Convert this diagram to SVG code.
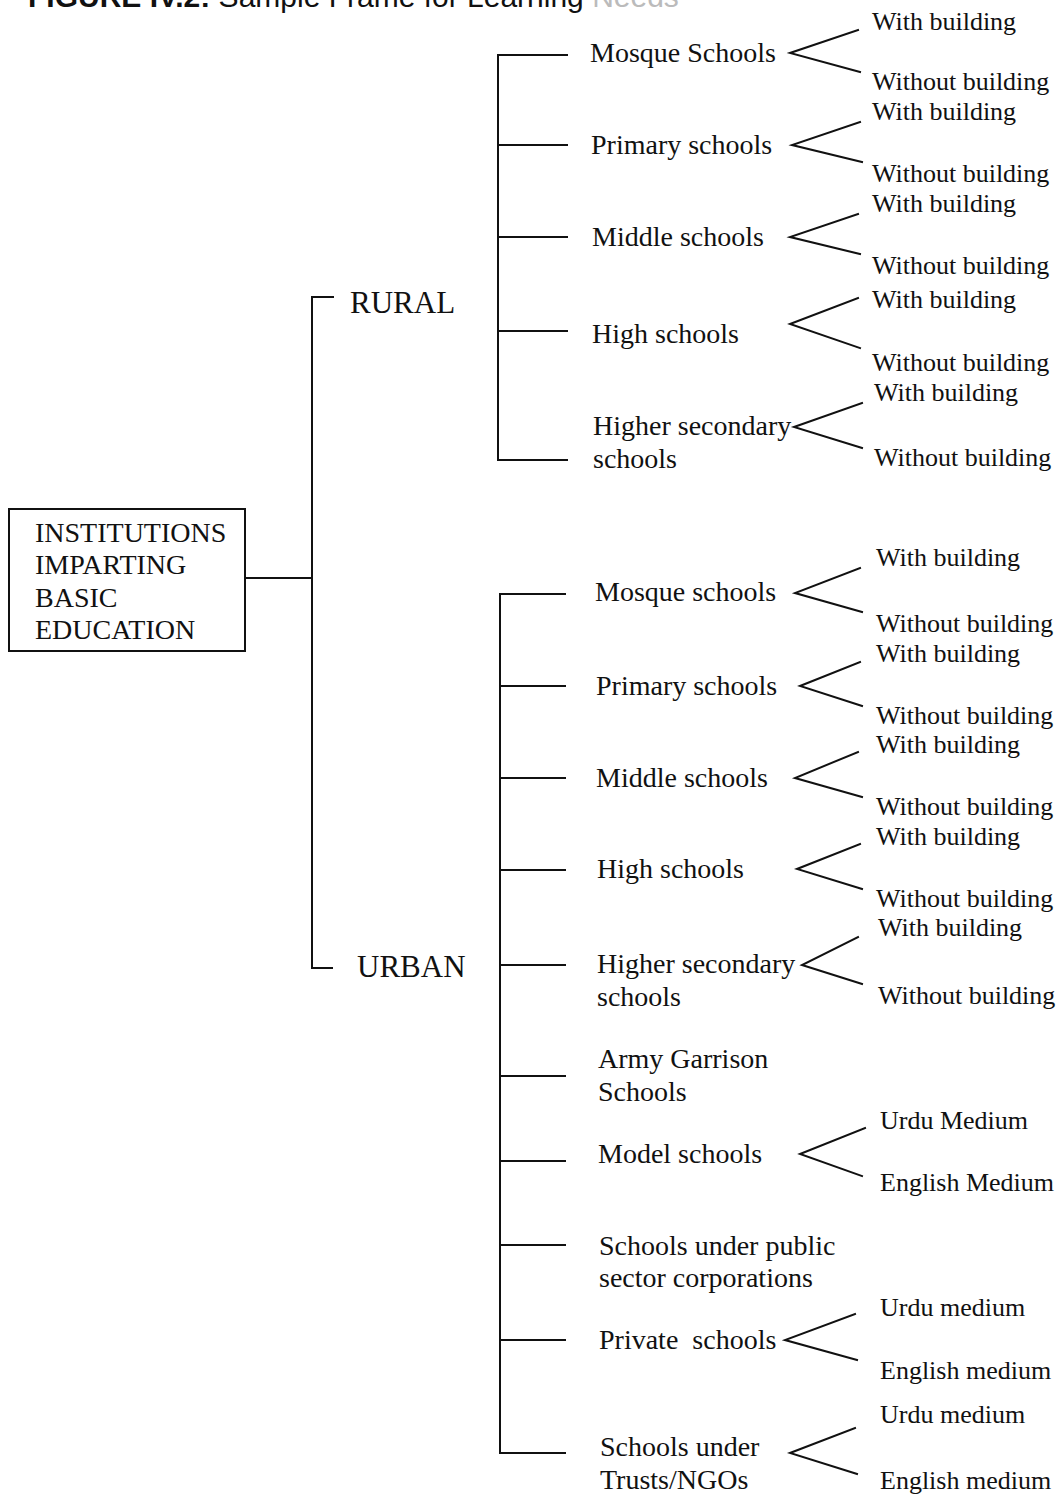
<svg xmlns="http://www.w3.org/2000/svg" width="1062" height="1495" viewBox="0 0 1062 1495">
  <style>
    .ln { stroke: #111; stroke-width: 2; fill: none; stroke-linecap: square; }
    .box { stroke: #111; stroke-width: 2; fill: #fff; }
    .t { font-family: "Liberation Serif", "Times New Roman", serif; fill: #111; }
    .lbl { font-size: 28px; }
    .leaf { font-size: 26px; }
    .grp { font-size: 31px; }
    .root { font-size: 28px; }
    .title { font-family: "Liberation Sans", Arial, sans-serif; font-size: 30px; fill: #111; }
  </style>
  <rect width="1062" height="1495" fill="#fff"/>

  <!-- heading, clipped by the top edge -->
  <text class="title" x="28" y="7"><tspan font-weight="bold">FIGURE IV.2:</tspan> Sample Frame for Learning <tspan fill="#bbb">Needs</tspan></text>

  <!-- connectors -->
  <g id="connectors" class="ln">
    <!-- root to trunk -->
    <path d="M246 578 H312"/>
    <path d="M333 297 H312 V968 H332"/>
    <!-- rural spine -->
    <path d="M567 55 H498 V460 H567"/>
    <path d="M498 145 H567"/>
    <path d="M498 237 H567"/>
    <path d="M498 331 H567"/>
    <!-- urban spine -->
    <path d="M565 594 H500 V1453 H565"/>
    <path d="M500 686 H565"/>
    <path d="M500 778 H565"/>
    <path d="M500 870 H565"/>
    <path d="M500 965 H565"/>
    <path d="M500 1076 H565"/>
    <path d="M500 1161 H565"/>
    <path d="M500 1245 H565"/>
    <path d="M500 1340 H565"/>
    <!-- rural forks -->
    <path d="M858 30 L790 53 L860 72"/>
    <path d="M860 122 L792 145 L862 162"/>
    <path d="M858 214 L790 237 L860 254"/>
    <path d="M858 298 L790 324 L860 348"/>
    <path d="M862 403 L794 427 L862 448"/>
    <!-- urban forks -->
    <path d="M860 568 L795 593 L862 612"/>
    <path d="M860 662 L800 686 L862 706"/>
    <path d="M858 752 L795 778 L862 797"/>
    <path d="M860 844 L797 869 L862 889"/>
    <path d="M858 937 L802 965 L862 984"/>
    <path d="M865 1128 L800 1154 L862 1176"/>
    <path d="M855 1314 L785 1340 L857 1360"/>
    <path d="M855 1428 L790 1453 L857 1474"/>
  </g>

  <g id="root">
    <rect class="box" x="9" y="509" width="236" height="142"/>
    <text class="t root" x="35" y="542">INSTITUTIONS</text>
    <text class="t root" x="35" y="574">IMPARTING</text>
    <text class="t root" x="35" y="607">BASIC</text>
    <text class="t root" x="35" y="639">EDUCATION</text>
  </g>

  <g id="rural"><text class="t grp" x="350" y="313">RURAL</text></g>
  <g id="urban"><text class="t grp" x="357" y="977">URBAN</text></g>

  <!-- rural branches -->
  <g id="r-mosque">
    <text class="t lbl" x="590" y="62">Mosque Schools</text>
    <text class="t leaf" x="872" y="30">With building</text>
    <text class="t leaf" x="872" y="90">Without building</text>
  </g>
  <g id="r-primary">
    <text class="t lbl" x="591" y="154">Primary schools</text>
    <text class="t leaf" x="872" y="120">With building</text>
    <text class="t leaf" x="872" y="182">Without building</text>
  </g>
  <g id="r-middle">
    <text class="t lbl" x="592" y="246">Middle schools</text>
    <text class="t leaf" x="872" y="212">With building</text>
    <text class="t leaf" x="872" y="274">Without building</text>
  </g>
  <g id="r-high">
    <text class="t lbl" x="592" y="343">High schools</text>
    <text class="t leaf" x="872" y="308">With building</text>
    <text class="t leaf" x="872" y="371">Without building</text>
  </g>
  <g id="r-highersec">
    <text class="t lbl" x="593" y="435">Higher secondary</text>
    <text class="t lbl" x="593" y="468">schools</text>
    <text class="t leaf" x="874" y="401">With building</text>
    <text class="t leaf" x="874" y="466">Without building</text>
  </g>

  <!-- urban branches -->
  <g id="u-mosque">
    <text class="t lbl" x="595" y="601">Mosque schools</text>
    <text class="t leaf" x="876" y="566">With building</text>
    <text class="t leaf" x="876" y="632">Without building</text>
  </g>
  <g id="u-primary">
    <text class="t lbl" x="596" y="695">Primary schools</text>
    <text class="t leaf" x="876" y="662">With building</text>
    <text class="t leaf" x="876" y="724">Without building</text>
  </g>
  <g id="u-middle">
    <text class="t lbl" x="596" y="787">Middle schools</text>
    <text class="t leaf" x="876" y="753">With building</text>
    <text class="t leaf" x="876" y="815">Without building</text>
  </g>
  <g id="u-high">
    <text class="t lbl" x="597" y="878">High schools</text>
    <text class="t leaf" x="876" y="845">With building</text>
    <text class="t leaf" x="876" y="907">Without building</text>
  </g>
  <g id="u-highersec">
    <text class="t lbl" x="597" y="973">Higher secondary</text>
    <text class="t lbl" x="597" y="1006">schools</text>
    <text class="t leaf" x="878" y="936">With building</text>
    <text class="t leaf" x="878" y="1004">Without building</text>
  </g>
  <g id="u-army">
    <text class="t lbl" x="598" y="1068">Army Garrison</text>
    <text class="t lbl" x="598" y="1101">Schools</text>
  </g>
  <g id="u-model">
    <text class="t lbl" x="598" y="1163">Model schools</text>
    <text class="t leaf" x="880" y="1129">Urdu Medium</text>
    <text class="t leaf" x="880" y="1191">English Medium</text>
  </g>
  <g id="u-public">
    <text class="t lbl" x="599" y="1255">Schools under public</text>
    <text class="t lbl" x="599" y="1287">sector corporations</text>
  </g>
  <g id="u-private">
    <text class="t lbl" x="599" y="1349" xml:space="preserve">Private  schools</text>
    <text class="t leaf" x="880" y="1316">Urdu medium</text>
    <text class="t leaf" x="880" y="1379">English medium</text>
  </g>
  <g id="u-trusts">
    <text class="t lbl" x="600" y="1456">Schools under</text>
    <text class="t lbl" x="600" y="1489">Trusts/NGOs</text>
    <text class="t leaf" x="880" y="1423">Urdu medium</text>
    <text class="t leaf" x="880" y="1489">English medium</text>
  </g>
</svg>
